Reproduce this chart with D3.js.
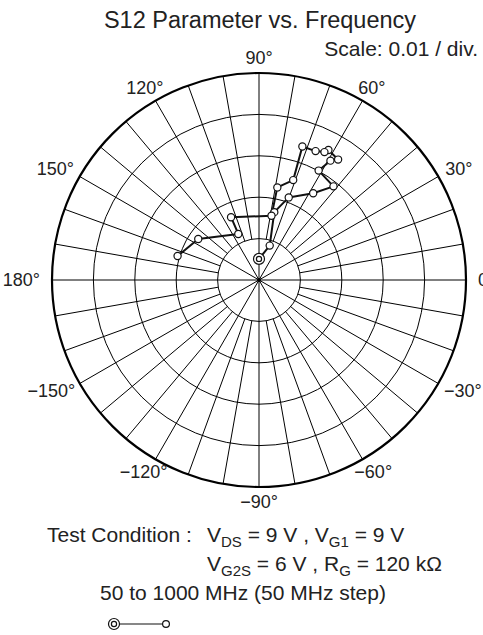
<!DOCTYPE html>
<html><head><meta charset="utf-8">
<script src="https://cdn.jsdelivr.net/npm/d3@7"></script>
<style>
html,body{margin:0;padding:0;background:#fff;}
svg{display:block;font-family:"Liberation Sans",Arial,Helvetica,sans-serif;}
</style></head>
<body>
<svg id="c" width="483" height="635"></svg>
<script>
// ---- data ----
const frequenciesMHz = [50,100,150,200,250,300,350,400,450,500,550,600,650,700,750,800,850,900,950,1000];
const magnitudes = [0.0051,0.0087,0.0168,0.0212,0.0247,0.0289,0.0301,0.0336,0.0348,0.0356,0.0347,0.0340,0.0339,0.0255,0.0228,0.0158,0.0166,0.0122,0.0177,0.0205];
const anglesDeg = [90,72.7,77.3,70.2,58.0,51.5,61.4,59.1,56.7,61.9,62.9,66.3,72.0,71.1,78.8,79.0,114.0,114.2,146.0,163.6];
const ringTicks = [0.01,0.02,0.03,0.04,0.05];
const angleLabels = [0,30,60,90,120,150,180,-150,-120,-90,-60,-30];
const title = "S12 Parameter vs. Frequency";
const scaleText = "Scale: 0.01 / div.";

const svg = d3.select("#c");
const cx = 259, cy = 280, R = 207;
const r = d3.scaleLinear().domain([0,0.05]).range([0,R]);
const rad = d => d*Math.PI/180;
const px = (m,a) => cx + r(m)*Math.cos(rad(a));
const py = (m,a) => cy - r(m)*Math.sin(rad(a));

const g = svg.append("g");
// rings
g.selectAll("circle.ring").data(ringTicks).join("circle")
  .attr("cx",cx).attr("cy",cy).attr("r",d=>r(d))
  .attr("fill","none").attr("stroke","#000")
  .attr("stroke-width",d=>d===0.05?2.2:1);
// spokes every 10 deg from first ring outward
const spokes = d3.range(0,360,10);
g.selectAll("line.sp").data(spokes).join("line")
  .attr("x1",d=>px(0.01,d)).attr("y1",d=>py(0.01,d))
  .attr("x2",d=>px(0.05,d)).attr("y2",d=>py(0.05,d))
  .attr("stroke","#000").attr("stroke-width",1);
// inner spokes every 30 deg
g.selectAll("line.isp").data(d3.range(0,360,30)).join("line")
  .attr("x1",cx).attr("y1",cy)
  .attr("x2",d=>px(0.01,d)).attr("y2",d=>py(0.01,d))
  .attr("stroke","#000").attr("stroke-width",1);
g.append("circle").attr("cx",cx).attr("cy",cy).attr("r",2).attr("fill","#000");

// angle labels
svg.append("g").selectAll("text").data(angleLabels).join("text")
  .attr("text-anchor","middle").attr("font-size",18).attr("fill","#222")
  .text(d=>(d<0?"\u2212"+(-d):d)+"\u00b0")
  .each(function(d){
    const w = this.getComputedTextLength();
    const c = Math.cos(rad(d)), s = Math.sin(rad(d));
    const rr = R + 12 + (w/2)*Math.abs(c);
    d3.select(this).attr("x", cx + rr*c).attr("y", cy - (R+15)*s + 6);
  });

// data path
const pts = magnitudes.map((m,i)=>[px(m,anglesDeg[i]),py(m,anglesDeg[i])]);
svg.append("path").attr("d",d3.line()(pts)).attr("fill","none")
  .attr("stroke","#111").attr("stroke-width",2).attr("stroke-linejoin","round");
svg.append("g").selectAll("circle").data(pts.slice(1)).join("circle")
  .attr("cx",d=>d[0]).attr("cy",d=>d[1]).attr("r",3.6)
  .attr("fill","#fff").attr("stroke","#111").attr("stroke-width",1.2);
svg.append("circle").attr("cx",pts[0][0]).attr("cy",pts[0][1]).attr("r",5.5)
  .attr("fill","#fff").attr("stroke","#111").attr("stroke-width",1.2);
svg.append("circle").attr("cx",pts[0][0]).attr("cy",pts[0][1]).attr("r",2.6)
  .attr("fill","#fff").attr("stroke","#111").attr("stroke-width",1.2);

// title & scale
svg.append("text").attr("x",260).attr("y",28).attr("text-anchor","middle")
  .attr("font-size",23.5).attr("fill","#222").text(title);
svg.append("text").attr("x",478).attr("y",56).attr("text-anchor","end")
  .attr("font-size",21).attr("fill","#222").text(scaleText);

// test condition
const tc = svg.append("g").attr("fill","#222").attr("font-size",21);
tc.append("text").attr("x",47).attr("y",542).text("Test Condition :");
const l1 = tc.append("text").attr("x",207).attr("y",542);
l1.append("tspan").text("V");
l1.append("tspan").attr("font-size",15).attr("dy",5).text("DS");
l1.append("tspan").attr("dy",-5).text(" = 9 V , V");
l1.append("tspan").attr("font-size",15).attr("dy",5).text("G1");
l1.append("tspan").attr("dy",-5).text(" = 9 V");
const l2 = tc.append("text").attr("x",207).attr("y",571);
l2.append("tspan").text("V");
l2.append("tspan").attr("font-size",15).attr("dy",5).text("G2S");
l2.append("tspan").attr("dy",-5).text(" = 6 V , R");
l2.append("tspan").attr("font-size",15).attr("dy",5).text("G");
l2.append("tspan").attr("dy",-5).text(" = 120 k\u03a9");
tc.append("text").attr("x",100).attr("y",600).text(`${frequenciesMHz[0]} to ${frequenciesMHz[frequenciesMHz.length-1]} MHz (50 MHz step)`);

// legend symbol
const lg = svg.append("g");
lg.append("line").attr("x1",114).attr("y1",624).attr("x2",166).attr("y2",624).attr("stroke","#111").attr("stroke-width",1.2);
lg.append("circle").attr("cx",114).attr("cy",624).attr("r",5.5).attr("fill","#fff").attr("stroke","#111").attr("stroke-width",1.2);
lg.append("circle").attr("cx",114).attr("cy",624).attr("r",2.6).attr("fill","#fff").attr("stroke","#111").attr("stroke-width",1.2);
lg.append("circle").attr("cx",166).attr("cy",624).attr("r",3.4).attr("fill","#fff").attr("stroke","#111").attr("stroke-width",1.2);
</script>
</body></html>
